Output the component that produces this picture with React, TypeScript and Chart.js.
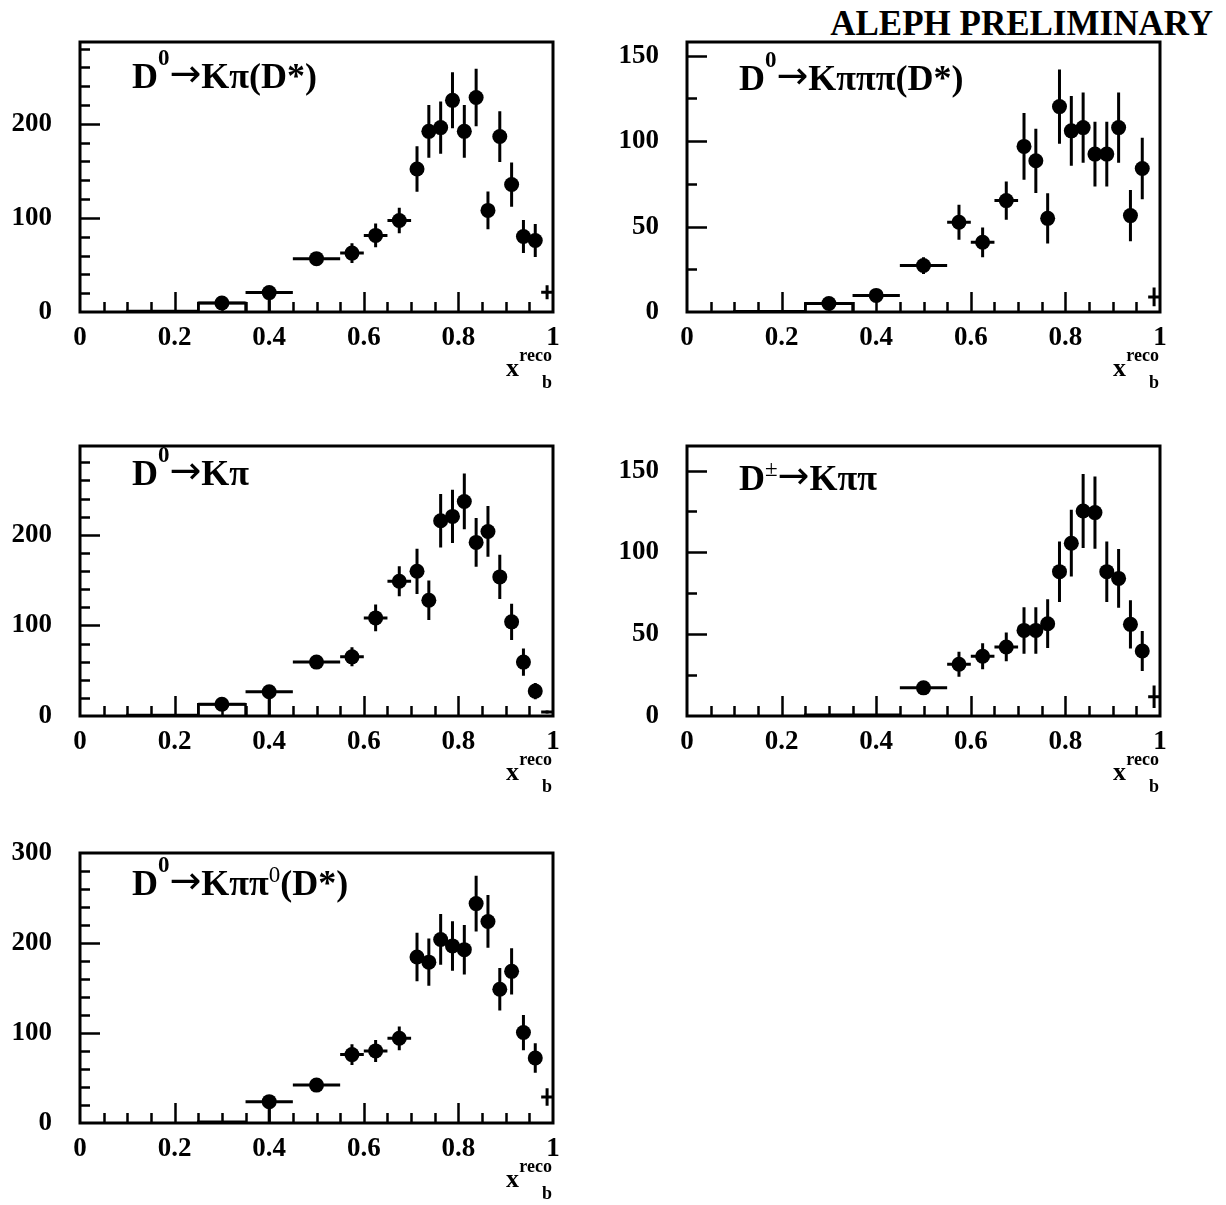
import React, { useEffect, useRef } from "react";
import { Chart, registerables } from "chart.js";
Chart.register(...registerables);

const FONT = '"Liberation Serif", "Times New Roman", serif';
const ARROW_FONT = '"DejaVu Sans", sans-serif';

// reconstructed x_b bins shared by all panels
const BIN_EDGES = [0.25, 0.35, 0.45, 0.55, 0.6, 0.65, 0.7, 0.725, 0.75, 0.775, 0.8, 0.825, 0.85, 0.875, 0.9, 0.925, 0.95, 0.975, 1.0];

// Panel 1: D0 -> K pi (D*)
const P1_VAL = [9.5, 20.6, 56.7, 62.6, 81.4, 97.3, 152, 192, 196, 225, 192, 228, 108, 186.5, 135.5, 80.3, 76, 21];
const P1_UP = [0, 4, 4, 10.6, 12.7, 13.6, 24.3, 28, 27.8, 29.8, 28, 30.5, 20, 27, 23.5, 17.5, 17.5, 7.5];
const P1_DN = [0, 20.6, 4, 10.6, 12.7, 13.6, 24.3, 28, 27.8, 29.8, 28, 30.5, 20, 27, 23.5, 17.5, 17.5, 7.5];
const P1_HIST_EDGES = [0.1, 0.25, 0.35];
const P1_HIST_VAL = [1, 9.5];

// Panel 2: D0 -> K pi pi pi (D*)
const P2_VAL = [5, 9.7, 27.2, 52.5, 40.8, 65.2, 96.9, 88.5, 54.8, 120.2, 106, 107.9, 92.4, 92.4, 107.9, 56.4, 84, 8.8];
const P2_UP = [0, 3, 4.9, 10.2, 8.7, 11.2, 19.5, 18.8, 14.7, 21.7, 20.4, 20.6, 19, 19, 20.6, 15, 18, 5.5];
const P2_DN = [0, 3, 4.9, 10.2, 8.7, 11.2, 19.5, 18.8, 14.7, 21.7, 20.4, 20.6, 19, 19, 20.6, 15, 18, 5.5];
const P2_HIST_EDGES = [0.1, 0.25, 0.35];
const P2_HIST_VAL = [0.5, 5];

// Panel 3: D0 -> K pi
const P3_VAL = [13, 26.8, 59.5, 65.3, 108.3, 148.7, 159.7, 127.8, 215.5, 220.3, 236.8, 191.6, 203.7, 153.5, 103.9, 59.5, 27.5, 4.4];
const P3_UP = [0, 4, 4, 10.5, 14.7, 16.5, 25, 21.8, 29.4, 29.4, 30.8, 27, 28, 24.4, 20, 15, 9, 2];
const P3_DN = [0, 26.8, 4, 10.5, 14.7, 16.5, 25, 21.8, 29.4, 29.4, 30.8, 27, 28, 24.4, 20, 15, 9, 2];
const P3_HIST_EDGES = [0.1, 0.25, 0.35];
const P3_HIST_VAL = [1, 13];

// Panel 4: D+- -> K pi pi
const P4_VAL = [null, null, 17.2, 31.6, 36.5, 42.2, 52.3, 52.3, 56.4, 88.2, 105.6, 125.3, 124.3, 88.2, 84.1, 56, 39.7, 11.8];
const P4_UP = [0, 0, 2.5, 7.6, 8, 8.8, 14.2, 14.2, 14.9, 18.5, 20.4, 22.6, 22.1, 18.5, 18, 14.7, 12.2, 6.9];
const P4_DN = [0, 0, 2.5, 7.6, 8, 8.8, 14.2, 14.2, 14.9, 18.5, 20.4, 22.6, 22.1, 18.5, 18, 14.7, 12.2, 6.9];
const P4_HIST_EDGES = [0.25, 0.35, 0.45];
const P4_HIST_VAL = [0.8, 0.8];

// Panel 5: D0 -> K pi pi0 (D*)
const P5_VAL = [null, 23.7, 42.1, 76, 80.1, 94.1, 184.4, 178.7, 203.9, 196.8, 192.6, 243.8, 223.9, 148.6, 168.5, 100.5, 72.2, 29];
const P5_UP = [0, 4, 4, 11.5, 12.2, 13.2, 26.9, 26.3, 28.2, 27.5, 27.5, 31, 29.3, 23.5, 25.8, 19.6, 16.3, 9.7];
const P5_DN = [0, 23.7, 4, 11.5, 12.2, 13.2, 26.9, 26.3, 28.2, 27.5, 27.5, 31, 29.3, 23.5, 25.8, 19.6, 16.3, 9.7];
const P5_HIST_EDGES = [0.25, 0.35];
const P5_HIST_VAL = [1.5];

// [text, weight, size, rise, family?]
type Seg = [string, string, number, number, string?];

const ARROW: Seg = ["\u2192", "normal", 38, 2, ARROW_FONT];
const T1: Seg[] = [["D", "bold", 36, 0], ["0", "bold", 23, 23], ARROW, ["K", "bold", 36, 0], ["\u03c0", "bold", 36, 0], ["(D*)", "bold", 36, 0]];
const T2: Seg[] = [["D", "bold", 36, 0], ["0", "bold", 23, 23], ARROW, ["K", "bold", 36, 0], ["\u03c0\u03c0\u03c0", "bold", 36, 0], ["(D*)", "bold", 36, 0]];
const T3: Seg[] = [["D", "bold", 36, 0], ["0", "bold", 23, 23], ARROW, ["K", "bold", 36, 0], ["\u03c0", "bold", 36, 0]];
const T4: Seg[] = [["D", "bold", 36, 0], ["\u00b1", "normal", 23, 14], ARROW, ["K", "bold", 36, 0], ["\u03c0\u03c0", "bold", 36, 0]];
const T5: Seg[] = [["D", "bold", 36, 0], ["0", "bold", 23, 23], ARROW, ["K", "bold", 36, 0], ["\u03c0\u03c0", "bold", 36, 0], ["0", "normal", 23, 13], ["(D*)", "bold", 36, 0]];

const FRAME_W = 473;
const FRAME_H = 270;
const AX_W = 80;
const AX_H = 80;
const PAD_T = 30;
const PAD_R = 30;

const PANELS = [
  { left: 80, top: 42, yMax: 287, yMajor: 100, yMinor: 20, val: P1_VAL, up: P1_UP, dn: P1_DN, he: P1_HIST_EDGES, hv: P1_HIST_VAL, title: T1, titleDy: 46 },
  { left: 687, top: 42, yMax: 158, yMajor: 50, yMinor: 25, val: P2_VAL, up: P2_UP, dn: P2_DN, he: P2_HIST_EDGES, hv: P2_HIST_VAL, title: T2, titleDy: 48 },
  { left: 80, top: 446, yMax: 298, yMajor: 100, yMinor: 20, val: P3_VAL, up: P3_UP, dn: P3_DN, he: P3_HIST_EDGES, hv: P3_HIST_VAL, title: T3, titleDy: 39 },
  { left: 687, top: 446, yMax: 165, yMajor: 50, yMinor: 25, val: P4_VAL, up: P4_UP, dn: P4_DN, he: P4_HIST_EDGES, hv: P4_HIST_VAL, title: T4, titleDy: 44 },
  { left: 80, top: 853, yMax: 300, yMajor: 100, yMinor: 20, val: P5_VAL, up: P5_UP, dn: P5_DN, he: P5_HIST_EDGES, hv: P5_HIST_VAL, title: T5, titleDy: 42 },
];

function drawRich(ctx: CanvasRenderingContext2D, x: number, y: number, segs: Seg[]) {
  for (const [text, weight, size, rise, fam] of segs) {
    ctx.font = `${weight} ${size}px ${fam || FONT}`;
    ctx.fillText(text, x, y - rise);
    x += ctx.measureText(text).width;
  }
}

function makePlugin(p: any) {
  return {
    id: "hep",
    beforeDatasetsDraw(chart: any) {
      const ctx = chart.ctx;
      const xs = chart.scales.x;
      const ys = chart.scales.y;
      ctx.save();
      ctx.strokeStyle = "#000";
      ctx.lineWidth = 3;
      ctx.lineCap = "butt";
      for (let i = 0; i < BIN_EDGES.length - 1; i++) {
        const v = p.val[i];
        if (v == null) continue;
        const lo = BIN_EDGES[i];
        const hi = BIN_EDGES[i + 1];
        const cx = xs.getPixelForValue((lo + hi) / 2);
        const cy = ys.getPixelForValue(v);
        ctx.beginPath();
        ctx.moveTo(xs.getPixelForValue(lo), cy);
        ctx.lineTo(xs.getPixelForValue(hi), cy);
        if (p.up[i] > 0 || p.dn[i] > 0) {
          ctx.moveTo(cx, ys.getPixelForValue(v - p.dn[i]));
          ctx.lineTo(cx, ys.getPixelForValue(v + p.up[i]));
        }
        ctx.stroke();
      }
      ctx.restore();
    },
    afterDatasetsDraw(chart: any) {
      const ctx = chart.ctx;
      const a = chart.chartArea;
      const xs = chart.scales.x;
      const ys = chart.scales.y;
      ctx.save();
      ctx.strokeStyle = "#000";
      ctx.fillStyle = "#000";
      // inward ticks
      ctx.lineWidth = 2.5;
      ctx.beginPath();
      for (let k = 1; k * p.yMinor < p.yMax; k++) {
        const v = k * p.yMinor;
        const major = Math.abs(v / p.yMajor - Math.round(v / p.yMajor)) < 1e-6;
        const py = Math.round(ys.getPixelForValue(v)) + 0.5;
        ctx.moveTo(a.left, py);
        ctx.lineTo(a.left + (major ? 20 : 10), py);
      }
      for (let k = 1; k < 20; k++) {
        const v = k * 0.05;
        const major = k % 4 === 0;
        const px = Math.round(xs.getPixelForValue(v)) + 0.5;
        ctx.moveTo(px, a.bottom);
        ctx.lineTo(px, a.bottom - (major ? 20 : 10));
      }
      ctx.stroke();
      // frame
      ctx.lineWidth = 3;
      ctx.strokeRect(a.left, a.top, a.right - a.left, a.bottom - a.top);
      // title
      ctx.textBaseline = "alphabetic";
      ctx.textAlign = "left";
      drawRich(ctx, a.left + 52, a.top + p.titleDy, p.title);
      // x axis label
      ctx.font = `bold 26px ${FONT}`;
      ctx.textAlign = "right";
      ctx.fillText("x", a.right - 34, a.bottom + 64);
      ctx.font = `bold 18px ${FONT}`;
      ctx.fillText("reco", a.right - 1, a.bottom + 49);
      ctx.fillText("b", a.right - 1, a.bottom + 76);
      ctx.restore();
    },
  };
}

function Panel({ p }: { p: any }) {
  const ref = useRef<HTMLCanvasElement>(null);
  useEffect(() => {
    if (!ref.current) return;
    const pts: any[] = [];
    for (let i = 0; i < BIN_EDGES.length - 1; i++) {
      const v = p.val[i];
      if (v == null) continue;
      pts.push({ x: (BIN_EDGES[i] + BIN_EDGES[i + 1]) / 2, y: v, marker: i < BIN_EDGES.length - 2 });
    }
    const hist: any[] = [{ x: p.he[0], y: 0 }];
    for (let i = 0; i < p.hv.length; i++) {
      hist.push({ x: p.he[i], y: p.hv[i] });
      hist.push({ x: p.he[i + 1], y: p.hv[i] });
    }
    hist.push({ x: p.he[p.he.length - 1], y: 0 });
    const yTicks: number[] = [];
    for (let v = 0; v <= p.yMax + 1e-9; v += p.yMajor) yTicks.push(v);
    const labelFont = { family: FONT, size: 27, weight: "bold" as const };
    const chart = new Chart(ref.current, {
      type: "scatter",
      data: {
        datasets: [
          {
            data: pts,
            backgroundColor: "#000",
            borderColor: "#000",
            borderWidth: 0,
            pointRadius: (c: any) => (c.raw && c.raw.marker ? 7.5 : 0),
            pointHoverRadius: (c: any) => (c.raw && c.raw.marker ? 7.5 : 0),
          },
          {
            data: hist,
            showLine: true,
            borderColor: "#000",
            borderWidth: 2.5,
            pointRadius: 0,
            fill: false,
          },
        ],
      },
      options: {
        responsive: false,
        animation: false,
        events: [],
        layout: { autoPadding: false, padding: { top: PAD_T, right: PAD_R, left: 0, bottom: 0 } },
        plugins: { legend: { display: false }, tooltip: { enabled: false }, title: { display: false } },
        scales: {
          x: {
            type: "linear",
            min: 0,
            max: 1,
            grid: { display: false, drawTicks: false },
            border: { display: false },
            ticks: {
              stepSize: 0.2,
              autoSkip: false,
              maxRotation: 0,
              padding: 10,
              color: "#000",
              font: labelFont,
              callback: (v: any) => String(Math.round(Number(v) * 10) / 10),
            },
            afterFit: (s: any) => {
              s.height = AX_H;
              s.paddingLeft = 0;
              s.paddingRight = 0;
              s.paddingTop = 0;
              s.paddingBottom = 0;
            },
          },
          y: {
            type: "linear",
            min: 0,
            max: p.yMax,
            grid: { display: false, drawTicks: false },
            border: { display: false },
            afterBuildTicks: (s: any) => {
              s.ticks = yTicks.map((v) => ({ value: v }));
            },
            ticks: {
              padding: 28,
              color: "#000",
              font: labelFont,
              callback: (v: any) => String(Math.round(Number(v))),
            },
            afterFit: (s: any) => {
              s.width = AX_W;
              s.paddingLeft = 0;
              s.paddingRight = 0;
              s.paddingTop = 0;
              s.paddingBottom = 0;
            },
          },
        },
      } as any,
      plugins: [makePlugin(p)],
    });
    return () => chart.destroy();
  }, [p]);
  const w = AX_W + FRAME_W + PAD_R;
  const h = PAD_T + FRAME_H + AX_H;
  return (
    <canvas
      ref={ref}
      width={w}
      height={h}
      style={{ position: "absolute", left: p.left - AX_W, top: p.top - PAD_T, width: w, height: h }}
    />
  );
}

export default function App() {
  return (
    <div style={{ position: "absolute", left: 0, top: 0, width: 1226, height: 1205, overflow: "hidden", background: "#fff" }}>
      <div
        style={{
          position: "absolute",
          right: 13,
          top: 6,
          font: `bold 35px ${FONT}`,
          lineHeight: "35px",
          color: "#000",
          whiteSpace: "nowrap",
        }}
      >
        ALEPH PRELIMINARY
      </div>
      {PANELS.map((p, i) => (
        <Panel key={i} p={p} />
      ))}
    </div>
  );
}
